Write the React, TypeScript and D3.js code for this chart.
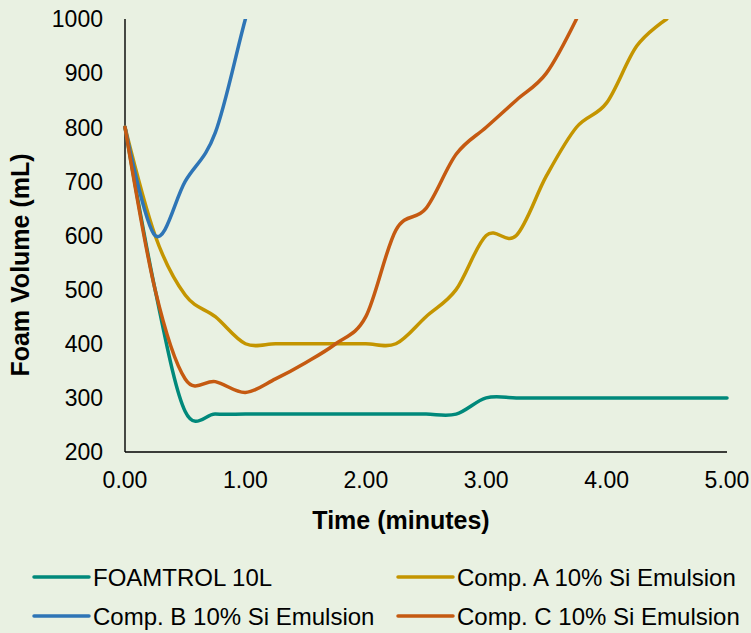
import React from "react";
import * as d3 from "d3";

const times = [0, 0.25, 0.5, 0.75, 1, 1.25, 1.5, 1.75, 2, 2.25, 2.5, 2.75, 3, 3.25, 3.5, 3.75, 4, 4.25, 4.5, 4.75, 5];
const foamtrol = [800, 500, 275, 270, 270, 270, 270, 270, 270, 270, 270, 270, 300, 300, 300, 300, 300, 300, 300, 300, 300];
const compA = [800, 600, 490, 450, 400, 400, 400, 400, 400, 400, 450, 500, 600, 600, 710, 800, 845, 950, 1000, null, null];
const compB = [800, 600, 700, 790, 1000, 1200, null, null, null, null, null, null, null, null, null, null, null, null, null, null, null];
const compC = [800, 500, 335, 330, 310, 335, 365, 400, 450, 610, 650, 750, 800, 850, 900, 1000, null, null, null, null, null];

const seriesNames = ["FOAMTROL 10L", "Comp. A 10% Si Emulsion", "Comp. B 10% Si Emulsion", "Comp. C 10% Si Emulsion"];
const seriesColors = ["#00897B", "#C49500", "#2E75B6", "#C55A11"];
const xTicks = [0, 1, 2, 3, 4, 5];
const yTicks = [200, 300, 400, 500, 600, 700, 800, 900, 1000];

const W = 751;
const H = 633;
const FONT = "'Liberation Sans', Arial, sans-serif";

export default function App() {
  const x = d3.scaleLinear().domain([0, 5]).range([125, 727]);
  const y = d3.scaleLinear().domain([200, 1000]).range([452, 19]);
  const allSeries = [foamtrol, compA, compB, compC];

  const line = d3
    .line<[number, number | null]>()
    .defined((d) => d[1] !== null)
    .x((d) => x(d[0]))
    .y((d) => y(d[1] as number))
    .curve(d3.curveCardinal.tension(0));

  const legend = [
    { i: 0, lx: 34, ly: 577 },
    { i: 1, lx: 398, ly: 577 },
    { i: 2, lx: 34, ly: 616 },
    { i: 3, lx: 398, ly: 616 },
  ];

  return (
    <svg
      width={W}
      height={H}
      style={{ position: "absolute", left: 0, top: 0, background: "#E9F1E2" }}
      fontFamily={FONT}
    >
      <rect x={0} y={0} width={W} height={H} fill="#E9F1E2" />
      <defs>
        <clipPath id="plot">
          <rect x={120} y={19} width={615} height={440} />
        </clipPath>
      </defs>
      {/* axes */}
      <line x1={125} x2={125} y1={y(1000)} y2={y(200)} stroke="#000" strokeWidth={1.4} />
      <line x1={125} x2={x(5)} y1={y(200)} y2={y(200)} stroke="#000" strokeWidth={1.4} />
      {yTicks.map((t) => (
        <text key={t} x={103} y={y(t)} dy="0.36em" textAnchor="end" fontSize={23} fill="#000">
          {t}
        </text>
      ))}
      {xTicks.map((t) => (
        <text key={t} x={x(t)} y={488} textAnchor="middle" fontSize={23} fill="#000">
          {t.toFixed(2)}
        </text>
      ))}
      <text x={401} y={529} textAnchor="middle" fontSize={25} fontWeight="bold" fill="#000">
        Time (minutes)
      </text>
      <text
        transform={`translate(29, 265) rotate(-90)`}
        textAnchor="middle"
        fontSize={25}
        fontWeight="bold"
        fill="#000"
      >
        Foam Volume (mL)
      </text>
      {/* series */}
      <g clipPath="url(#plot)">
        {allSeries.map((s, i) => (
          <path
            key={i}
            d={line(times.map((t, k) => [t, s[k]] as [number, number | null])) || ""}
            fill="none"
            stroke={seriesColors[i]}
            strokeWidth={3.5}
            strokeLinecap="round"
            strokeLinejoin="round"
          />
        ))}
      </g>
      {/* legend */}
      {legend.map(({ i, lx, ly }) => (
        <g key={i}>
          <line x1={lx} x2={lx + 55} y1={ly} y2={ly} stroke={seriesColors[i]} strokeWidth={3.5} strokeLinecap="round" />
          <text x={lx + 59} y={ly} dy="0.36em" fontSize={24} fill="#000">
            {seriesNames[i]}
          </text>
        </g>
      ))}
    </svg>
  );
}
